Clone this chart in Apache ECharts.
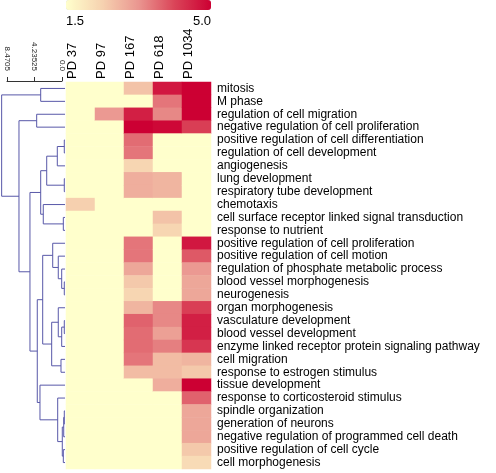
<!DOCTYPE html>
<html><head><meta charset="utf-8">
<script src="https://cdn.jsdelivr.net/npm/echarts@6/dist/echarts.min.js"></script>
<style>html,body{margin:0;padding:0;background:#fff}#c{width:496px;height:473px}</style>
</head><body><div id="c"></div>
<script>
// ---- data ----
const samples = ['PD 37', 'PD 97', 'PD 167', 'PD 618', 'PD 1034'];
const terms = [
  'mitosis', 'M phase', 'regulation of cell migration', 'negative regulation of cell proliferation',
  'positive regulation of cell differentiation', 'regulation of cell development', 'angiogenesis',
  'lung development', 'respiratory tube development', 'chemotaxis',
  'cell surface receptor linked signal transduction', 'response to nutrient',
  'positive regulation of cell proliferation', 'positive regulation of cell motion',
  'regulation of phosphate metabolic process', 'blood vessel morphogenesis', 'neurogenesis',
  'organ morphogenesis', 'vasculature development', 'blood vessel development',
  'enzyme linked receptor protein signaling pathway', 'cell migration',
  'response to estrogen stimulus', 'tissue development', 'response to corticosteroid stimulus',
  'spindle organization', 'generation of neurons', 'negative regulation of programmed cell death',
  'positive regulation of cell cycle', 'cell morphogenesis'
];
const pd37   = [1.5,1.5,1.5,1.5,1.5,1.5,1.5,1.5,1.5,2.4,1.5,1.5,1.5,1.5,1.5,1.5,1.5,1.5,1.5,1.5,1.5,1.5,1.5,1.5,1.5,1.5,1.5,1.5,1.5,1.5];
const pd97   = [1.5,1.5,3.2,1.5,1.5,1.5,1.5,1.5,1.5,1.5,1.5,1.5,1.5,1.5,1.5,1.5,1.5,1.5,1.5,1.5,1.5,1.5,1.5,1.5,1.5,1.5,1.5,1.5,1.5,1.5];
const pd167  = [2.6,1.5,4.6,5.0,3.7,3.6,2.3,2.9,2.9,1.5,1.5,1.5,3.6,3.6,3.0,2.5,2.3,2.8,3.8,3.7,3.7,3.6,2.7,1.5,1.5,1.5,1.5,1.5,1.5,1.5];
const pd618  = [4.7,3.6,3.4,4.9,1.5,1.5,1.5,2.8,2.8,1.5,2.6,2.3,1.5,1.5,1.5,1.5,1.5,3.4,3.4,3.1,3.5,2.7,2.7,2.9,1.5,1.5,1.5,1.5,1.5,1.5];
const pd1034 = [5.0,5.0,5.0,4.2,1.5,1.5,1.5,1.5,1.5,1.5,1.5,1.5,4.7,3.9,3.2,3.0,3.0,4.2,4.6,4.6,4.3,2.8,2.5,5.0,3.8,3.0,3.0,3.0,2.5,2.2];
const scaleLabels = ['1.5', '5.0'];
const rulerLabels = ['0.0', '4.23525', '8.4705'];

// dendrogram linkage (leaves 0..29, merged nodes 30..58 in order)
const linkLeft   = [4, 30, 7, 31, 10, 9, 33, 15, 14, 13, 12, 18, 41, 17, 21, 43, 40, 25, 47, 28, 48, 24, 23, 46, 36, 2, 55, 0, 57];
const linkRight  = [5, 6, 8, 32, 11, 34, 35, 16, 37, 38, 39, 19, 20, 42, 22, 44, 45, 26, 27, 29, 49, 50, 51, 52, 53, 3, 54, 1, 56];
const linkHeight = [0.11, 1.19, 0.11, 2.83, 0.26, 3.36, 3.76, 0.11, 0.51, 1.04, 1.90, 0.11, 0.51, 1.04, 0.62, 2.06, 3.45, 0.11, 0.20, 0.26, 0.42, 1.13, 3.87, 4.29, 5.42, 4.38, 7.12, 3.76, 9.80];

// ---- build ----
const cols = [pd37, pd97, pd167, pd618, pd1034];
const heat = [];
cols.forEach((arr, c) => arr.forEach((v, r) => heat.push([c, r, v])));

const nLeaf = terms.length;
const nodeY = [], nodeH = [];
for (let i = 0; i < nLeaf; i++) { nodeY.push(i); nodeH.push(0); }
const dendro = [];
for (let k = 0; k < linkLeft.length; k++) {
  const a = linkLeft[k], b = linkRight[k], h = linkHeight[k];
  dendro.push([nodeH[a], nodeY[a], h, nodeY[b], nodeH[b]]);
  nodeY.push((nodeY[a] + nodeY[b]) / 2);
  nodeH.push(h);
}

const FONT = '"Liberation Sans", Arial, sans-serif';
const chart = echarts.init(document.getElementById('c'), null, {renderer: 'canvas'});
chart.setOption({
  backgroundColor: '#ffffff',
  animation: false,
  textStyle: {fontFamily: FONT},
  grid: [
    {left: 66, top: 82, width: 145, height: 387, outerBoundsMode: 'none'},
    {left: 1, top: 82, width: 64, height: 387, outerBoundsMode: 'none'},
    {left: 7, top: 80, width: 55, height: 1, outerBoundsMode: 'none'}
  ],
  xAxis: [
    {gridIndex: 0, type: 'category', data: samples, position: 'top',
     axisLine: {show: false}, axisTick: {show: false}, splitLine: {show: false},
     axisLabel: {interval: 0, rotate: -90, margin: 3, fontSize: 13, color: '#000', fontFamily: FONT,
                 verticalAlign: 'bottom', padding: [0, 0, 2, 0]}},
    {gridIndex: 1, type: 'value', min: 0, max: 9.9, inverse: true, show: false},
    {gridIndex: 2, type: 'value', min: 0, max: 8.4705, interval: 4.23525, inverse: true, position: 'top',
     axisLine: {show: true, lineStyle: {color: '#333', width: 1}},
     axisTick: {show: true, length: 4, lineStyle: {color: '#333'}},
     splitLine: {show: false},
     axisLabel: {rotate: -90, margin: 9, fontSize: 8, color: '#222', fontFamily: FONT,
                 formatter: (v, i) => rulerLabels[i] !== undefined ? rulerLabels[i] : ''}}
  ],
  yAxis: [
    {gridIndex: 0, type: 'category', data: terms, inverse: true, position: 'right',
     axisLine: {show: false}, axisTick: {show: false}, splitLine: {show: false},
     axisLabel: {interval: 0, margin: 6, fontSize: 12, color: '#000', fontFamily: FONT}},
    {gridIndex: 1, type: 'value', min: -0.5, max: nLeaf - 0.5, inverse: true, show: false},
    {gridIndex: 2, type: 'value', min: 0, max: 1, show: false}
  ],
  visualMap: {
    type: 'continuous', min: 1.5, max: 5.0, orient: 'horizontal',
    left: 66, top: 0, itemWidth: 10, itemHeight: 145, padding: 0,
    calculable: false, realtime: false, showLabel: false, text: null,
    seriesIndex: 0,
    inRange: {color: ['#FFFFCC', '#F6D2B0', '#EA9690', '#DA4458', '#CC0033']}
  },
  graphic: [
    {type: 'text', left: 66, top: 15, style: {text: scaleLabels[0], font: '13px ' + FONT, fill: '#000'}},
    {type: 'text', right: 285, top: 15, style: {text: scaleLabels[1], font: '13px ' + FONT, fill: '#000'}}
  ],
  series: [
    {type: 'heatmap', xAxisIndex: 0, yAxisIndex: 0, data: heat,
     itemStyle: {borderWidth: 0}, emphasis: {disabled: true}},
    {type: 'custom', xAxisIndex: 1, yAxisIndex: 1, data: dendro, silent: true,
     encode: {x: [0, 2, 4], y: [1, 3]},
     renderItem: function (params, api) {
       const p = [
         api.coord([api.value(0), api.value(1)]),
         api.coord([api.value(2), api.value(1)]),
         api.coord([api.value(2), api.value(3)]),
         api.coord([api.value(4), api.value(3)])
       ];
       return {type: 'polyline', shape: {points: p},
               style: {stroke: '#5858A8', lineWidth: 1, fill: null}};
     }},
    {type: 'scatter', xAxisIndex: 2, yAxisIndex: 2, data: [], silent: true}
  ]
});
</script>
</body></html>
